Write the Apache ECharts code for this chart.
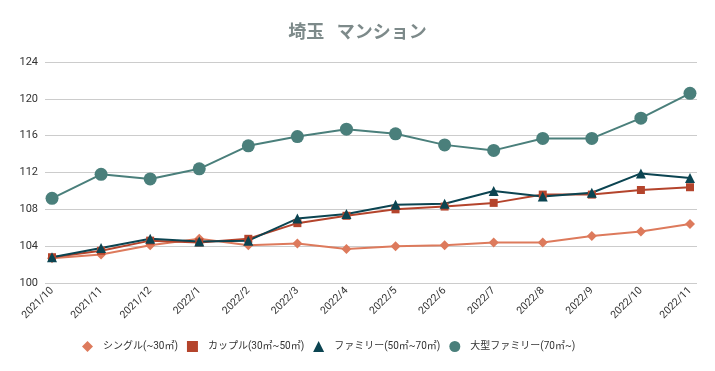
<!DOCTYPE html>
<html><head><meta charset="utf-8">
<script src="https://cdn.jsdelivr.net/npm/echarts@6/dist/echarts.min.js"></script>
<style>html,body{margin:0;padding:0;background:#fff}#c{width:715px;height:371px}</style>
</head><body><div id="c"></div>
<script>
const categories = ['2021/10','2021/11','2021/12','2022/1','2022/2','2022/3','2022/4','2022/5','2022/6','2022/7','2022/8','2022/9','2022/10','2022/11'];
const single = [102.7,103.1,104.1,104.8,104.1,104.3,103.7,104.0,104.1,104.4,104.4,105.1,105.6,106.4];
const couple = [102.8,103.5,104.6,104.4,104.8,106.5,107.3,108.0,108.3,108.7,109.6,109.6,110.1,110.4];
const family = [102.8,103.8,104.8,104.5,104.6,107.0,107.5,108.5,108.6,110.0,109.4,109.8,111.9,111.4];
const large = [109.2,111.8,111.3,112.4,114.9,115.9,116.7,116.2,115.0,114.4,115.7,115.7,117.9,120.6];
const yTicks = [100,104,108,112,116,120,124];
const names = ['シングル(~30㎡)','カップル(30㎡~50㎡)','ファミリー(50㎡~70㎡)','大型ファミリー(70㎡~)'];
const colors = ['#dd7a5c','#b4442c','#0b4451','#4a7f7b'];
const symbols = ['diamond','rect','triangle','circle'];
const sizes = [10,8,10,13];
const datasets = [single, couple, family, large];
const idx = categories.map((c,i)=>i);
const chart = echarts.init(document.getElementById('c'));
chart.setOption({
  animation:false,
  color: colors,
  title:{text:'埼玉   マンション',left:'center',top:17,textStyle:{fontSize:18,fontWeight:'bold',color:'#7d8a8a',fontFamily:'"Noto Sans CJK JP", sans-serif'}},
  legend:{bottom:14,left:77,itemGap:9,itemWidth:11,itemHeight:11,
    textStyle:{fontSize:10,color:'#333',padding:[0,0,0,5],fontFamily:'Roboto, "Noto Sans CJK JP", sans-serif'},
    data: names.map((n,i)=>({name:n,icon:symbols[i]}))},
  grid:{left:45,right:18,top:62,bottom:88},
  xAxis:{type:'value',min:-0.143,max:13.143,
    axisLine:{show:false},axisTick:{show:false},splitLine:{show:false},
    axisLabel:{customValues:idx,rotate:45,fontSize:10.5,color:'#333',margin:6,
      fontFamily:'Roboto, sans-serif',formatter:v=>categories[Math.round(v)]}},
  yAxis:{type:'value',min:100,max:124,interval:4,
    axisLine:{show:false},axisTick:{show:false},
    axisLabel:{fontSize:11,color:'#333',margin:7,fontFamily:'Roboto, sans-serif'},
    splitLine:{lineStyle:{color:'#cccccc',width:1}}},
  series: datasets.map((d,i)=>({
    name:names[i],type:'line',data:d.map((v,j)=>[idx[j],v]),
    symbol:symbols[i],symbolSize:sizes[i],
    lineStyle:{width:2,color:colors[i]},itemStyle:{color:colors[i]}
  }))
});
</script></body></html>
